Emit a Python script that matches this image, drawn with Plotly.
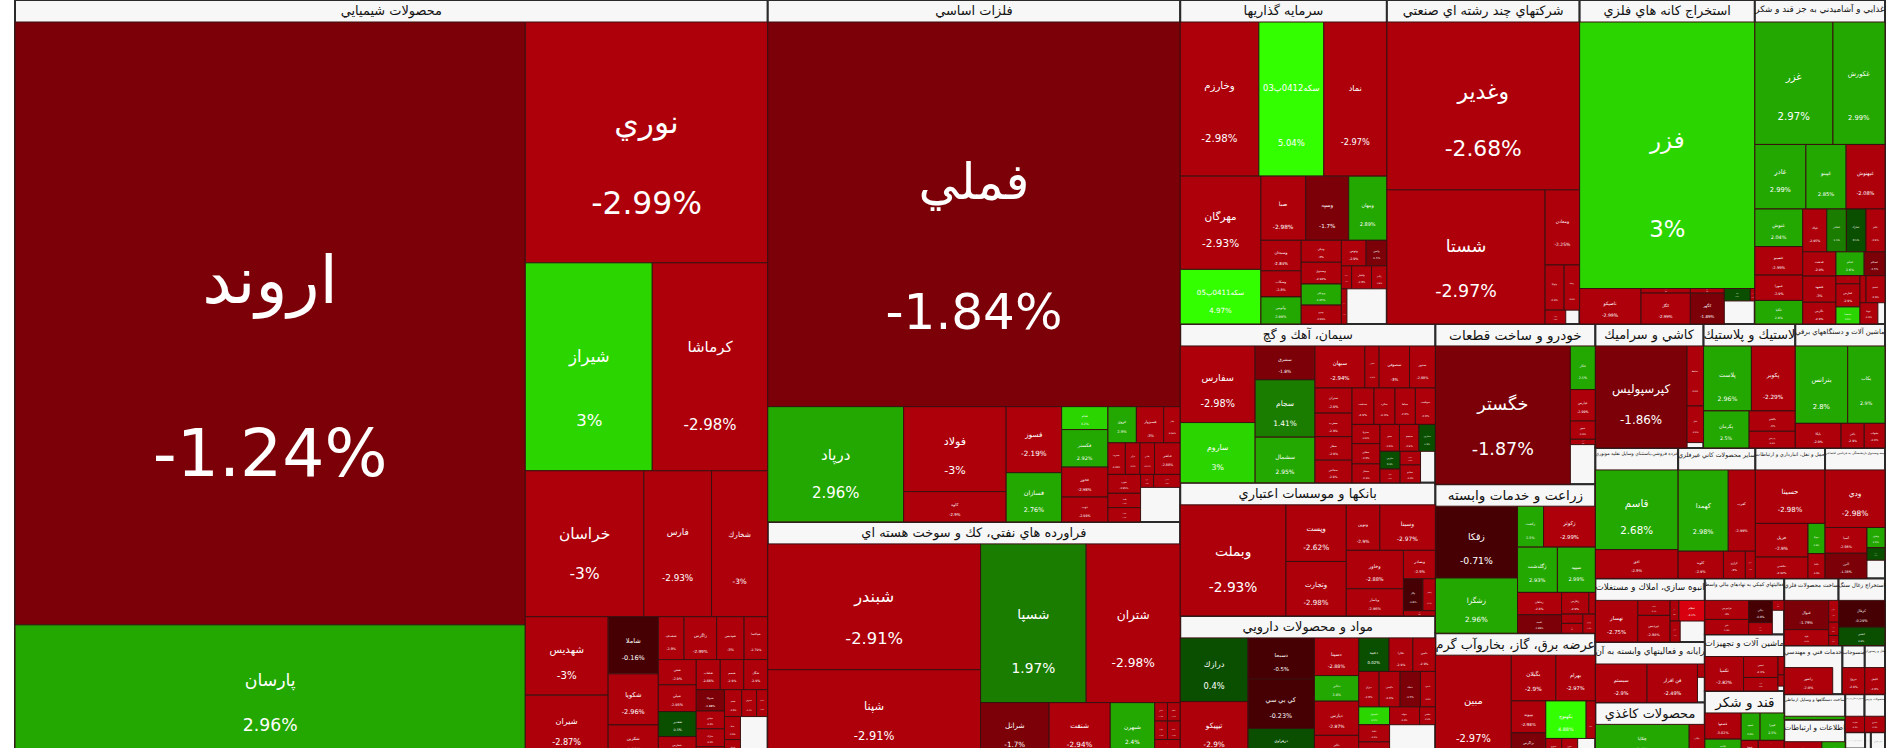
import math
import plotly.graph_objects as go

# ---------------- data (sizes = relative market-cap units, changes = % daily change) -------------
sectors = [
    "محصولات شيميايي", "فلزات اساسي", "فراورده هاي نفتي، كك و سوخت هسته اي", "سرمايه گذاريها",
    "شركتهاي چند رشته اي صنعتي", "استخراج كانه هاي فلزي", "غذايي و آشاميدني به جز قند و شكر",
    "سيمان، آهك و گچ", "بانكها و موسسات اعتباري", "مواد و محصولات دارويي", "خودرو و ساخت قطعات",
    "زراعت و خدمات وابسته", "عرضه برق، گاز، بخاروآب گرم", "كاشي و سراميك", "لاستيك و پلاستيك",
    "ماشين آلات و دستگاههاي برقي", "خرده فروشي،باستثناي وسايل نقليه موتوري", "ساير محصولات كاني غيرفلزي",
    "حمل و نقل، انبارداري و ارتباطات", "بيمه وصندوق بازنشستگي به جزتامين اجتماعي",
    "انبوه سازي، املاك و مستغلات", "رايانه و فعاليتهاي وابسته به آن", "محصولات كاغذي",
    "فعاليتهاي كمكي به نهادهاي مالي واسط", "ماشين آلات و تجهيزات", "قند و شكر", "ساخت محصولات فلزي",
    "استخراج زغال سنگ", "خدمات فني و مهندسي", "منسوجات", "هتل و رستوران",
    "ساخت دستگاهها و وسايل ارتباطي", "اطلاعات و ارتباطات", "فعاليتهاي فرهنگي و ورزشي", "محصولات چرمي",
    "استخراج نفت گاز و خدمات جنبي", "محصولات چوبي", "انتشار، چاپ و تكثير", "حمل و نقل آبي",
    "ساير واسطه گريهاي مالي",
]
sector_size = [
    388433, 146540, 66300, 45572, 42507, 38643, 28702, 27602, 23110, 24684, 17450, 16226, 13594,
    9128, 7742, 7570, 7349, 6859, 6188, 5325, 4740, 4500, 4145, 3032, 3051, 3622, 2485,
    2124, 1928, 740, 670, 1058, 1591, 500, 530, 221, 126, 70, 170, 108,
]
sector_gap = [
    770, 930, 0, 955, 130, 476, 102, 319, 0, 984, 671, 0, 228, 60, 0, 0, 0, 0, 0, 222, 364, 128,
    0, 199, 20, 0, 0, 0, 170, 0, 0, 0, 0, 0, 0, 0, 0, 0, 0, 0,
]

tickers = [
    ["اروند", "پارسان", "نوري", "شيراز", "كرماشا", "خراسان", "فارس", "شخارك", "شهديس", "شيران", "شاملا",
     "شكويا", "شكربن", "شصدف", "زاگرس", "شپديس", "شپاكسا", "شفن", "شپلي", "شغدير", "شفارس", "شلعاب",
     "شسم", "شگل", "شتوكا", "شپاس", "شاراك", "شيري", "شجم", "شدوص", "شصفها", "شفا", "شملي"],
    ["فملي", "درپاد", "فولاد", "كاوه", "فسوز", "فسازان", "فجام", "فكستر", "فخوز", "ذوب", "فروي", "فسبزوار",
     "فاذر", "فسرب", "فرآور", "فلامي", "فباهنر", "فنورد", "فگستر", "فمراد", "فايرا", "فاسمين"],
    ["شبندر", "شپنا", "شسپا", "شتران", "شرانل", "شنفت", "شبهرن", "شاوان", "شكام", "شپترو", "شدانا", "شگاز", "شرنگي"],
    ["وخارزم", "سكه0412پ03", "نماد", "مهرگان", "سكه0411پ05", "صبا", "وسپه", "ومهان", "وسبحان", "وسكاب",
     "وآتوس", "ونيكي", "وصندوق", "وبوعلي", "ونيرو", "وتوس", "وامين", "وساخت", "ولتجار", "وكادو", "وسنا"],
    ["وغدير", "شستا", "ومعادن", "وتوكا", "وصنا", "وپترو"],
    ["فزر", "تاصيكو", "كمنگنز", "كگل", "كبافق", "كگهر", "كچاد", "كدما"],
    ["غزر", "غكورش", "غاذر", "غپينو", "غبهنوش", "غنوش", "غصينو", "غمهرا", "غگلپا", "غپاك", "غشاذر", "غمارگ",
     "غالبر", "غدشت", "غشهد", "غگرجي", "غدام", "غسالم", "غچين", "غفارس", "غشصفا", "غبشهر", "غمينو", "غويتا"],
    ["سفارس", "ساروم", "سشرق", "سجام", "سشمال", "سبهان", "سخزر", "سصوفي", "سدور", "ستران", "سغرب", "سفار",
     "سخاش", "سدشت", "سكرد", "سپاها", "سهگمت", "سبزوا", "سقاين", "سمتاز", "سنير", "سبجنو", "سكارون", "سارس",
     "سآبيك", "سيلام", "سفانو"],
    ["وبملت", "وپست", "وتجارت", "ونوين", "وسينا", "وخاور", "وپاسار", "وبصادر", "وكار", "وانصار", "وآيند"],
    ["درازك", "تيپيكو", "دسبحا", "كي بي سي", "دزهراوي", "دسينا", "دجابر", "دپارس", "دالبر", "دعبيد", "دفارا",
     "دامين", "ديران", "دكيمي", "دتماد", "داسوه", "دكپسول", "دلقما", "دشيمي", "دتوليد", "دقاضي"],
    ["خگستر", "خكار", "خپارس", "خمهر", "خموتور"],
    ["زقكا", "زشگزا", "زكشت", "زكوثر", "زگلدشت", "سپيد", "زماهان", "تليسه", "زفارس", "زدشت", "زملارد", "زنگان", "زپارس"],
    ["مبين", "بگيلان", "بهرام", "بپيوند", "بزاگرس", "بكهنوج", "بتك", "بسويچ", "بنيرو"],
    ["كپرسپوليس", "كحافظ", "كتيل"],
    ["پلاست", "پكوير", "پكرمان", "پاكشو", "پدرخش"],
    ["بترانس", "بكاب", "بايكا", "بالبر", "بشهاب"],
    ["قاسم", "افق"],
    ["كهمدا", "كغرب", "كلوند", "كرازي", "كمرجان"],
    ["حسينا", "حريل", "حكشتي", "حتوكا", "حآسا"],
    ["ودي", "آسيا", "البرز", "وتعاون", "وملت"],
    ["تهسار", "ثاخت", "ثپرديس", "ثامان", "ثنظام", "ثشرق"],
    ["سيستم", "فن افزار", "مداران"],
    ["چكاپا", "چكارن"],
    ["فرابورس", "اتكاي", "نيكي", "افرا", "كارا"],
    ["تكمبا", "تپمپي", "تايرا", "تمحركه", "تجلي"],
    ["قصفها", "قثابت", "قشهد", "قپيرا", "قنيشا", "قلرست", "قشكر"],
    ["فنوال", "فلوله", "فجهان", "فاراك", "فبستم"],
    ["كزغال", "كطبس"],
    ["رانفور"],
    ["نبروج"],
    ["گكيش"],
    ["تاپكيش"],
    ["رتاپ", "اخابر"],
    ["هجرت"],
    ["بشيري"],
    [], [], [], [], [],
]
ticker_size = [
    [209160, 46200, 39700, 17955, 16330, 11760, 6720, 5580, 4420, 3540, 1950, 1740, 1130, 750, 950, 800,
     690, 650, 690, 645, 553, 490, 480, 491, 409, 342, 342, 218, 315, 273, 204, 250, 200],
    [107800, 10640, 5915, 2110, 2490, 1855, 720, 1180, 940, 780, 700, 670, 408, 375, 313, 313, 552, 419,
     317, 317, 115, 234],
    [18200, 12775, 11400, 10150, 2580, 2300, 1675, 160, 160, 160, 160, 160, 160],
    [8235, 6808, 6605, 5110, 2993, 1953, 1874, 1664, 836, 714, 741, 600, 593, 576, 515, 430, 360, 160,
     310, 240, 132],
    [21900, 14365, 1756, 581, 474, 193],
    [31600, 1473, 153, 1030, 107, 707, 219, 38],
    [6436, 4287, 2216, 1746, 1688, 1211, 918, 816, 758, 692, 566, 566, 547, 542, 585, 485, 452, 334, 133,
     373, 276, 110, 345, 255],
    [3903, 3072, 1374, 2336, 1858, 1428, 409, 870, 740, 633, 595, 594, 572, 543, 521, 504, 496, 365, 384,
     361, 356, 356, 301, 243, 189, 189, 249],
    [7966, 2317, 2226, 1035, 1715, 1488, 1053, 616, 422, 270, 113],
    [2786, 2467, 1760, 2118, 1266, 1077, 732, 976, 647, 657, 515, 488, 467, 480, 464, 342, 355, 342, 321,
     345, 182],
    [12625, 739, 533, 310, 90],
    [3956, 3040, 716, 1423, 1212, 1154, 659, 545, 398, 95, 133, 140, 160],
    [5133, 1339, 1191, 726, 570, 998, 228, 205, 205],
    [6377, 674, 411],
    [2119, 1943, 1151, 642, 524],
    [2766, 1969, 768, 388, 348],
    [4451, 1610],
    [2759, 1492, 833, 403, 184],
    [2526, 1199, 761, 348, 286],
    [2340, 731, 714, 246, 153],
    [1240, 341, 605, 127, 377, 148],
    [1372, 1338, 68],
    [2203, 368],
    [576, 454, 363, 194, 81],
    [878, 477, 306, 75, 46],
    [623, 449, 339, 433, 197, 150, 150],
    [873, 475, 145, 88, 67],
    [841, 581],
    [848],
    [350],
    [317],
    [197],
    [450, 280],
    [95],
    [164],
    [], [], [], [], [],
]
ticker_change = [
    [-1.24, 2.96, -2.99, 3, -2.98, -3, -2.93, -3, -3, -2.87, -0.16, -2.96, -2.88, -2.9, -2.99, -3, -2.79,
     -2.9, -2.95, 0.5, -2.9, -2.88, -2.9, -2.9, -1.88, -2.9, -2.9, -2.9, -2.9, -2.9, -2.9, -2.9, -2.9],
    [-1.84, 2.96, -3, -2.9, -2.19, 2.76, 3.2, 2.92, -2.98, -2.99, 2.9, -3, -2.96, -2.95, -2.9, -2.97,
     -2.88, -2.95, -2.9, -2.9, -2.9, -2.9],
    [-2.91, -2.91, 1.97, -2.98, -1.7, -2.94, 2.4, -2.9, -2.9, -2.9, -2.9, -2.9, -2.9],
    [-2.98, 5.04, -2.97, -2.93, 4.97, -2.98, -1.7, 2.89, -2.84, -2.8, 2.99, -3, -2.92, 2.45, -2.99, -2.9,
     -1.5, -2.9, -2.9, -2.9, -2.9],
    [-2.68, -2.97, -2.25, -2.9, -2.9, -2.9],
    [3, -2.99, -2.9, -2.99, -2.9, -1.89, 0.6, -2.9],
    [2.97, 2.99, 2.99, 2.85, -2.08, 2.04, -2.99, -2.9, 2.8, -2.95, 1.5, 0.5, -2.9, -2.9, -3, -2.9, 2.6,
     -1.5, -2.9, -2.9, 3.2, -2.9, -2.9, -2.9],
    [-2.98, 3, -1.8, 1.41, 2.95, -2.94, -2.9, -3, -2.88, -2.9, -2.9, -2.9, -2.9, -2.9, -2.9, -2.9, -2.9,
     -2.9, -2.9, -2.9, -2.9, -2.9, 0.5, 0.3, -2.9, -2.9, -2.9],
    [-2.93, -2.62, -2.98, -2.9, -2.97, -2.88, -2.96, -2.9, -0.8, -2.9, -2.9],
    [0.4, -2.9, -0.5, -0.23, 0.11, -2.88, 2.4, -2.87, -2.98, 0.02, -2.9, -2.9, -2.9, -2.9, -1.5, -2.9, 3.1,
     -2.9, -2.9, -2.9, -2.9],
    [-1.87, 2.5, -2.99, -2.9, -2.9],
    [-0.71, 2.96, 2.5, -2.99, 2.93, 2.99, -2.8, -1.88, -2.9, -2.9, -2.9, -2.9, -2.9],
    [-2.97, -2.9, -2.97, -2.98, -1.5, 4.88, -2.9, -2.9, -2.9],
    [-1.86, -2.9, -2.9],
    [2.96, -2.29, 2.5, -3, -2.9],
    [2.8, 2.9, -2.9, -2.9, -2.9],
    [2.68, -2.9],
    [2.98, -2.99, -2.9, -3, -2.9],
    [-2.98, -2.9, -2.92, 2.6, -2.9],
    [-2.98, -2.98, -1.38, 2.5, 0.4],
    [-2.75, -2.9, -2.98, -2.9, -4.1, -2.9],
    [-2.9, -2.49, -2.9],
    [2.6, -2.9],
    [-3, -2.98, -0.8, -2.9, -2.9],
    [-2.82, -2.9, -2.9, -2.9, -2.9],
    [-3.02, 2.5, 2.6, 2.5, -2.9, -2.9, -2.9],
    [-1.79, -2.9, -2.9, -2.9, -2.9],
    [-0.29, 0.6],
    [-2.9],
    [-2.9],
    [-2.9],
    [2.5],
    [-2.9, 2.3],
    [-2.9],
    [-2.9],
    [], [], [], [], [],
]

# ---------------- styling ----------------
FONT = "Tahoma, DejaVu Sans, sans-serif"
PLOT_W, PLOT_H, HEAD = 1870, 758, 22
RATIO = (1 + math.sqrt(5)) / 2


def change_color(p):
    if p >= 4:
        return "#33ff00"
    if p >= 3:
        return "#2bd600"
    if p >= 2:
        return "#22a800"
    if p >= 1:
        return "#1a7d00"
    if p >= 0:
        return "#0a4f00"
    if p > -1:
        return "#460004"
    if p > -2:
        return "#7c0008"
    if p >= -3.5:
        return "#ae000b"
    return "#d8000e"


def fmt(p):
    return f"{p:g}%"


def squarify(vals, total, x0, y0, x1, y1, ratio=RATIO):
    """Mirror of the squarified tiling Plotly uses, only to size the label fonts."""
    rects = [(x0, y0, x0, y0)] * len(vals)
    n, i0, value = len(vals), 0, total
    while i0 < n:
        dx, dy = x1 - x0, y1 - y0
        if dx <= 0 or dy <= 0 or value <= 0:
            break
        i1 = i0
        sv = vals[i1]
        i1 += 1
        while not sv and i1 < n:
            sv = vals[i1]
            i1 += 1
        mn = mx = sv
        alpha = max(dy / dx, dx / dy) / (value * ratio)
        beta = sv * sv * alpha
        best = max(mx / beta, beta / mn)
        while i1 < n:
            nv = vals[i1]
            sv += nv
            mn, mx = min(mn, nv), max(mx, nv)
            beta = sv * sv * alpha
            r = max(mx / beta, beta / mn)
            if r > best:
                sv -= nv
                break
            best = r
            i1 += 1
        if dx < dy:
            ny = y0 + dy * sv / value
            k = (x1 - x0) / sv if sv else 0
            x = x0
            for j in range(i0, i1):
                rects[j] = (x, y0, x + vals[j] * k, ny)
                x += vals[j] * k
            y0 = ny
        else:
            nx = x0 + dx * sv / value
            k = (y1 - y0) / sv if sv else 0
            y = y0
            for j in range(i0, i1):
                rects[j] = (x0, y, nx, y + vals[j] * k)
                y += vals[j] * k
            x0 = nx
        value -= sv
        i0 = i1
    return rects


sector_rects = squarify(sector_size, sum(sector_size), 0, HEAD, PLOT_W, PLOT_H + HEAD)

ids, labels, parents, values = ["root"], [""], [""], [0]
colors, texts, fsize, fcolor, lwidth, lcolor = ["#ffffff"], [""], [12], ["#000000"], [0], ["#ffffff"]

for i, sname in enumerate(sectors):
    names, sizes, chg = tickers[i], ticker_size[i], ticker_change[i]
    assert len(names) == len(sizes) == len(chg), sname
    inner = sum(sizes) + sector_gap[i]
    S = sector_size[i]
    own = S * sector_gap[i] / inner if names else S
    sid = f"s{i}"
    ids.append(sid)
    labels.append(sname)
    parents.append("root")
    values.append(own)
    colors.append("#f7f7f7")
    texts.append(sname)
    fsize.append(17 if names else 9)
    fcolor.append("#111111")
    lwidth.append(2)
    lcolor.append("#2a2a2a")
    if not names:
        continue
    vals = [S * a / inner for a in sizes]
    sx0, sy0, sx1, sy1 = sector_rects[i]
    kid_rects = squarify(vals, S, sx0, min(sy0 + HEAD, sy1), sx1, sy1)
    for n_, v, p, rc in zip(names, vals, chg, kid_rects):
        w, h = rc[2] - rc[0], rc[3] - rc[1]
        fs = max(1.0, min(72.0, 0.13 * min(w, h)))
        gap = max(2, round(0.33 * h / (1.3 * fs)))
        lead = max(1, round(0.575 * gap))
        ids.append(f"{sid}/{n_}")
        labels.append(n_)
        parents.append(sid)
        values.append(v)
        colors.append(change_color(p))
        texts.append("\u00a0<br>" * lead + n_ + "<br>" * gap + fmt(p))
        fsize.append(fs)
        fcolor.append("#ffffff")
        lwidth.append(1)
        lcolor.append("#3a1010")

fig = go.Figure(go.Treemap(
    ids=ids, labels=labels, parents=parents, values=values,
    branchvalues="remainder", sort=False,
    text=texts, textinfo="text", textposition="middle center",
    textfont=dict(family=FONT, size=fsize, color=fcolor),
    insidetextfont=dict(family=FONT, size=fsize, color=fcolor),
    marker=dict(colors=colors, line=dict(width=lwidth, color=lcolor),
                pad=dict(t=HEAD, l=0, r=0, b=0)),
    tiling=dict(packing="squarify", squarifyratio=RATIO, pad=0),
    pathbar=dict(visible=False),
    root=dict(color="#ffffff"),
    hoverinfo="skip",
))
fig.update_layout(
    width=1900, height=PLOT_H + HEAD,
    margin=dict(l=15, r=15, t=0, b=0),
    paper_bgcolor="#ffffff",
    font=dict(family=FONT),
)

post = ("document.body.style.margin='0';document.body.style.overflow='hidden';"
        "var g=document.getElementById('{plot_id}');g.style.marginTop='-%dpx';" % HEAD)
fig.write_html("out.html", post_script=post, config={"displayModeBar": False})
